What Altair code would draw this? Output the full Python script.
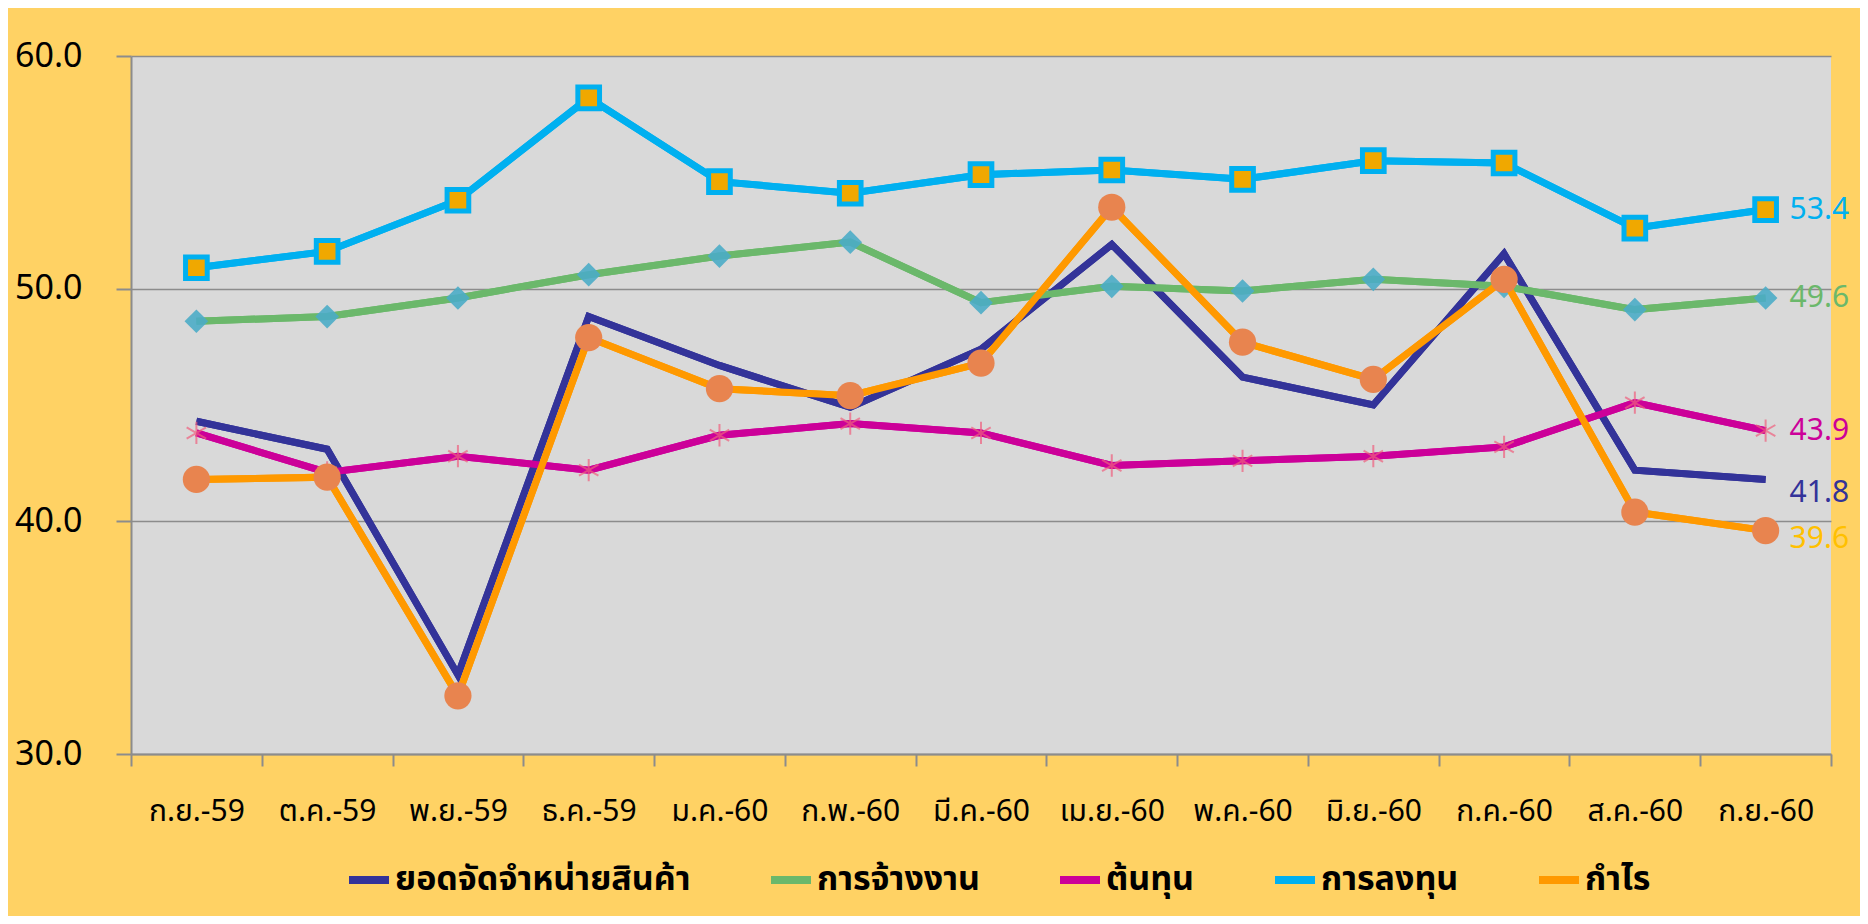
import altair as alt
import pandas as pd

months = ["ก.ย.-59", "ต.ค.-59", "พ.ย.-59", "ธ.ค.-59", "ม.ค.-60", "ก.พ.-60", "มี.ค.-60",
          "เม.ย.-60", "พ.ค.-60", "มิ.ย.-60", "ก.ค.-60", "ส.ค.-60", "ก.ย.-60"]

series_names = ["ยอดจัดจำหน่ายสินค้า", "การจ้างงาน", "ต้นทุน", "การลงทุน", "กำไร"]

sales = [44.3, 43.1, 33.4, 48.8, 46.7, 44.9, 47.4, 51.9, 46.2, 45.0, 51.5, 42.2, 41.8]
employment = [48.6, 48.8, 49.6, 50.6, 51.4, 52.0, 49.4, 50.1, 49.9, 50.4, 50.1, 49.1, 49.6]
cost = [43.8, 42.1, 42.8, 42.2, 43.7, 44.2, 43.8, 42.4, 42.6, 42.8, 43.2, 45.1, 43.9]
investment = [50.9, 51.6, 53.8, 58.2, 54.6, 54.1, 54.9, 55.1, 54.7, 55.5, 55.4, 52.6, 53.4]
profit = [41.8, 41.9, 32.5, 47.9, 45.7, 45.4, 46.8, 53.5, 47.7, 46.1, 50.4, 40.4, 39.6]

y_ticks = [30, 40, 50, 60]

all_values = [sales, employment, cost, investment, profit]

rows = []
for name, vals in zip(series_names, all_values):
    for m, v in zip(months, vals):
        rows.append({"month": m, "series": name, "value": v})
df = pd.DataFrame(rows)

# styles
line_colors = ["#333399", "#6BB86B", "#CC0099", "#00B0F0", "#FF9900"]
label_colors = ["#333399", "#6BB86B", "#CC0099", "#00B0F0", "#FFC000"]
asterisk = "M0,-1L0,1M-0.87,-0.5L0.87,0.5M-0.87,0.5L0.87,-0.5"
marker_styles = [
    None,
    dict(shape="diamond", size=560, fill="#4BACC6", filled=True, opacity=0.9, strokeWidth=0),
    dict(shape=asterisk, size=500, filled=False, stroke="#F0607E", strokeWidth=2),
    dict(shape="square", size=470, fill="#F0A800", filled=True, stroke="#00B0F0", strokeWidth=5, opacity=1),
    dict(shape="circle", size=740, fill="#E8844F", filled=True, strokeWidth=0, opacity=1),
]
label_dy = [14, 0, 0, 0, 8]

FONT_THAI = "Noto Sans Thai, Noto Sans, sans-serif"

x_enc = alt.X(
    "month:N",
    sort=months,
    bandPosition=0.5,
    scale=alt.Scale(type="band", paddingInner=0, paddingOuter=0),
    axis=alt.Axis(
        title=None, labelAngle=0, tickBand="extent", grid=False,
        domainColor="#8C8C8C", domainWidth=2, tickColor="#8C8C8C", tickWidth=2, tickSize=12,
        labelFontSize=30, labelFont=FONT_THAI, labelColor="black", labelPadding=30,
    ),
)
y_enc = alt.Y(
    "value:Q",
    scale=alt.Scale(domain=[30, 60], nice=False, zero=False),
    axis=alt.Axis(
        title=None, values=y_ticks, format=".1f",
        grid=True, gridColor="#8C8C8C", gridWidth=1.5,
        domainColor="#8C8C8C", domainWidth=2, tickColor="#8C8C8C", tickWidth=2, tickSize=15,
        labelFontSize=34, labelFont="Noto Sans", labelColor="black", labelPadding=34,
        labelBaseline="middle",
    ),
)

base = alt.Chart(df)

lines = base.mark_line(strokeWidth=7, strokeJoin="miter").encode(
    x=x_enc,
    y=y_enc,
    color=alt.Color(
        "series:N",
        sort=series_names,
        scale=alt.Scale(domain=series_names, range=line_colors),
        legend=alt.Legend(
            title=None, orient="none", direction="horizontal",
            legendX=214, legendY=800,
            symbolType="stroke", symbolStrokeWidth=8, symbolSize=1600,
            labelFontSize=34, labelFont=FONT_THAI, labelFontWeight="bold", labelColor="black",
            columnPadding=64, symbolOffset=0, labelOffset=2, labelLimit=500,
        ),
    ),
    detail="series:N",
)

layers = []
for i, name in enumerate(series_names):
    sub = base.transform_filter(alt.datum.series == name)
    layers.append(
        sub.mark_line(strokeWidth=7, color=line_colors[i]).encode(x=x_enc, y=y_enc)
    )
    ms = marker_styles[i]
    if ms is not None:
        layers.append(sub.mark_point(**ms).encode(x=x_enc, y=y_enc))

labels = []
for i, name in enumerate(series_names):
    last = base.transform_filter(
        (alt.datum.series == name) & (alt.datum.month == months[-1])
    )
    labels.append(
        last.mark_text(
            align="left", baseline="middle", dx=24, dy=label_dy[i],
            fontSize=30, font="Noto Sans", color=label_colors[i],
        ).encode(x=x_enc, y=y_enc, text=alt.Text("value:Q", format=".1f"))
    )

chart = alt.layer(lines, *layers, *labels).properties(
    width=1700,
    height=698,
    background="#FFD264",
    padding={"left": 123, "top": 48, "right": 29, "bottom": 162},
    autosize=alt.AutoSizeParams(type="none"),
).configure_view(fill="#D9D9D9", stroke=None)

chart.save("out.html", embed_options={"renderer": "svg", "actions": False})
